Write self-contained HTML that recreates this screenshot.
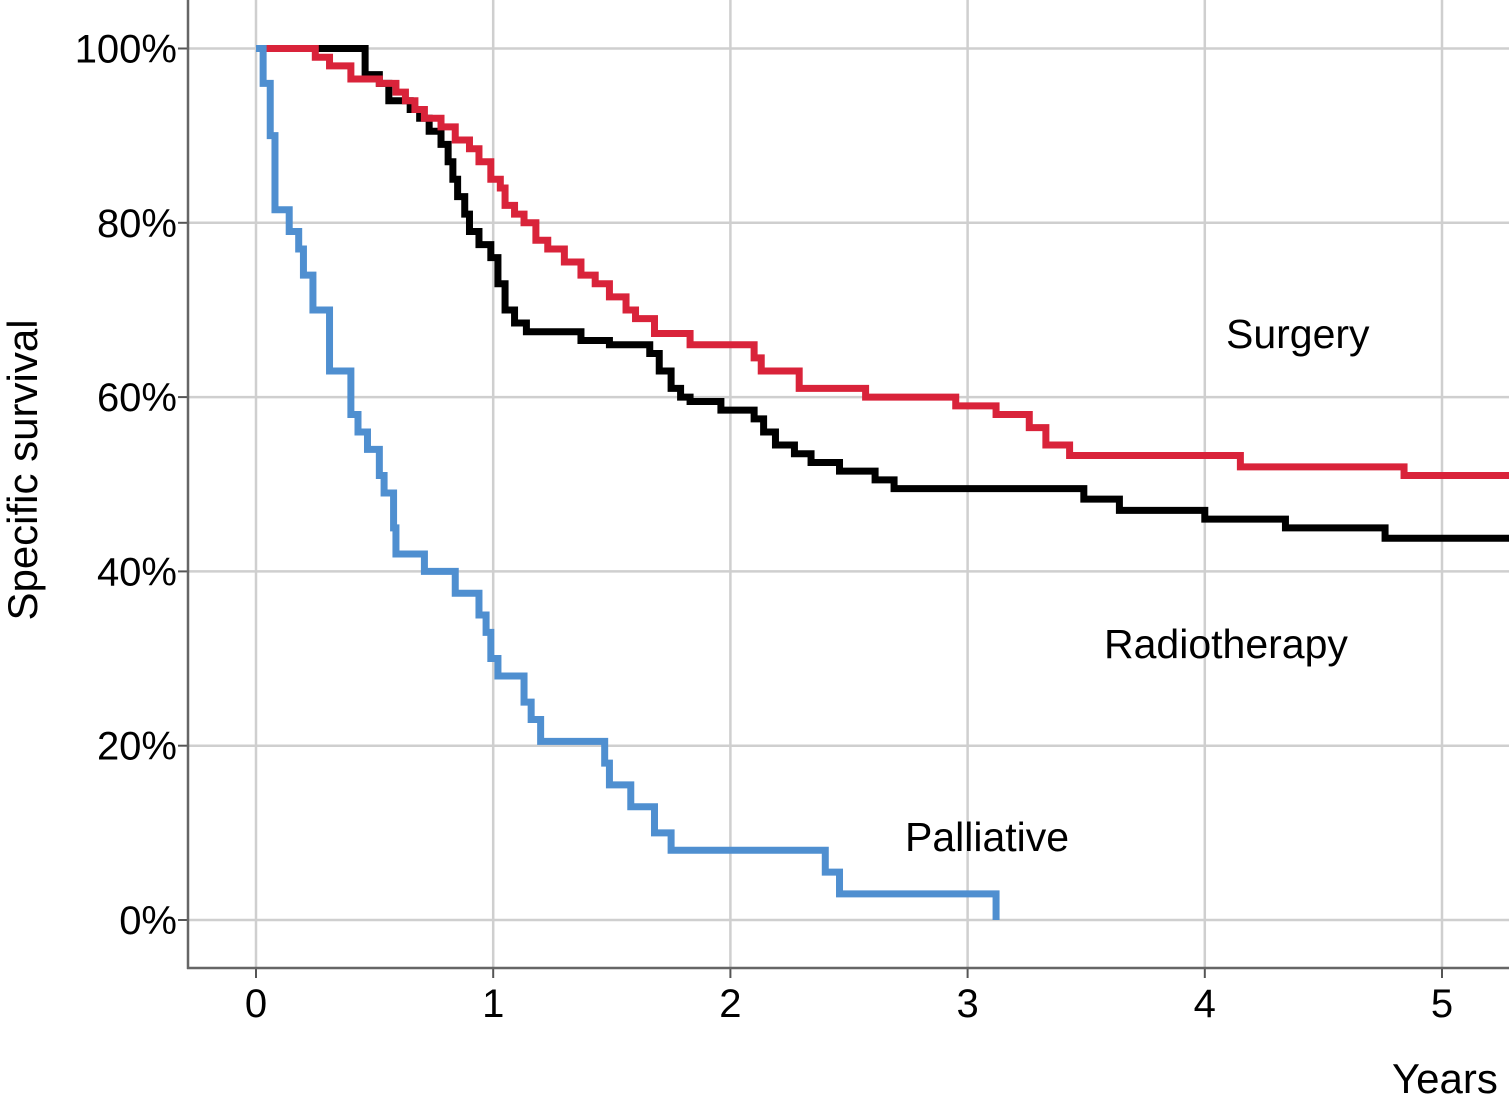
<!DOCTYPE html>
<html><head><meta charset="utf-8"><style>
html,body{margin:0;padding:0;background:#fff;}
svg{display:block;font-family:"Liberation Sans",Arial,sans-serif;}
</style></head><body>
<svg id="chart" width="1509" height="1103">
<g id="grid"></g><g id="axes"></g><g id="series"></g><g id="labels"></g>
</svg>
<script>
const xTicks=[0,1,2,3,4,5];
const yTicks=[0,20,40,60,80,100];
const yTickLabels=["0%","20%","40%","60%","80%","100%"];
const palliativeT=[0,0.03,0.06,0.08,0.14,0.18,0.2,0.24,0.31,0.4,0.43,0.47,0.52,0.54,0.58,0.59,0.71,0.84,0.94,0.97,0.99,1.02,1.13,1.16,1.2,1.47,1.49,1.58,1.68,1.75,2.4,2.46,3.12];
const palliativeS=[100,96,90,81.5,79,77,74,70,63,58,56,54,51,49,45,42,40,37.5,35,33,30,28,25,23,20.5,18,15.5,13,10,8,5.5,3,0];
const surgeryT=[0,0.25,0.31,0.4,0.52,0.59,0.63,0.67,0.71,0.78,0.84,0.9,0.94,0.99,1.03,1.05,1.09,1.13,1.18,1.23,1.3,1.37,1.43,1.49,1.56,1.6,1.68,1.83,2.1,2.13,2.29,2.57,2.95,3.12,3.26,3.33,3.43,4.15,4.84];
const surgeryS=[100,99,98,96.5,96,95,94,93,92,91,89.5,88.5,87,85,84,82,81,80,78,77,75.5,74,73,71.5,70,69,67.3,66,64.5,63,61,60,59,58,56.5,54.5,53.3,52,51];
const radioT=[0,0.46,0.52,0.56,0.65,0.69,0.73,0.78,0.81,0.83,0.85,0.88,0.9,0.94,0.99,1.02,1.05,1.09,1.14,1.37,1.49,1.66,1.7,1.75,1.79,1.83,1.96,2.1,2.14,2.19,2.27,2.34,2.46,2.61,2.69,3.49,3.64,4.0,4.34,4.76];
const radioS=[100,97,96,94,93,92,90.5,89,87,85,83,81,79,77.5,76,73,70,68.5,67.5,66.5,66,65,63,61,60,59.5,58.5,57.5,56,54.5,53.5,52.5,51.5,50.5,49.5,48.3,47,46,45,43.8];
const tEnd=5.3;
const X=t=>256+t*237.2;
const Y=s=>920-s*8.715;
const NS="http://www.w3.org/2000/svg";
function mk(tag,attrs,parent){const e=document.createElementNS(NS,tag);for(const k in attrs)e.setAttribute(k,attrs[k]);parent.appendChild(e);return e;}
const grid=document.getElementById('grid'),axes=document.getElementById('axes'),series=document.getElementById('series'),labels=document.getElementById('labels');
xTicks.forEach(t=>{
  const l=mk('line',{x1:X(t),x2:X(t),y1:0,y2:968,stroke:'#cfcfcf','stroke-width':2.5},grid);
  
  
  const tk=mk('line',{x1:X(t),x2:X(t),y1:968,y2:978,stroke:'#555','stroke-width':2},axes);
  
  
  const tx=mk('text',{x:X(t),y:1017,'text-anchor':'middle','font-size':40,fill:'#000'},labels);
  tx.textContent=String(t);
  
  
});
yTicks.forEach((v,i)=>{
  const l=mk('line',{x1:188,x2:1509,y1:Y(v),y2:Y(v),stroke:'#cfcfcf','stroke-width':2.5},grid);
  
  
  const tk=mk('line',{x1:178,x2:188,y1:Y(v),y2:Y(v),stroke:'#555','stroke-width':2},axes);
  
  
  const tx=mk('text',{x:177,y:Y(v)+14,'text-anchor':'end','font-size':40,fill:'#000'},labels);
  tx.textContent=yTickLabels[i];
  
  
});
const ya=mk('line',{x1:188,x2:188,y1:0,y2:969,stroke:'#666','stroke-width':2.5},axes);


const xa=mk('line',{x1:187,x2:1509,y1:968,y2:968,stroke:'#666','stroke-width':2.5},axes);


function stepPath(T,S,extend){
  let d='M'+X(T[0])+','+Y(S[0]);
  for(let i=1;i<T.length;i++){d+=' H'+X(T[i])+' V'+Y(S[i]);}
  if(extend)d+=' H'+X(tEnd);
  return d;
}
const pr=mk('path',{d:stepPath(radioT,radioS,true),fill:'none',stroke:'#000','stroke-width':7},series);


const ps=mk('path',{d:stepPath(surgeryT,surgeryS,true),fill:'none',stroke:'#d9233a','stroke-width':7},series);


const pp=mk('path',{d:stepPath(palliativeT,palliativeS,false),fill:'none',stroke:'#4f8fd0','stroke-width':7},series);


function lbl(txt,x,y,name,extra){const t=mk('text',Object.assign({x:x,y:y,'font-size':41,fill:'#000'},extra||{}),labels);t.textContent=txt;return t;}
lbl('Surgery',1226,348,'surgery-label');
lbl('Radiotherapy',1104,658,'radiotherapy-label');
lbl('Palliative',905,851,'palliative-label');
lbl('Years',1392,1093,'x-axis-title',{'font-size':42});
lbl('Specific survival',37,470,'y-axis-title',{'text-anchor':'middle','font-size':42,transform:'rotate(-90 37 470)'});
</script>
</body></html>
